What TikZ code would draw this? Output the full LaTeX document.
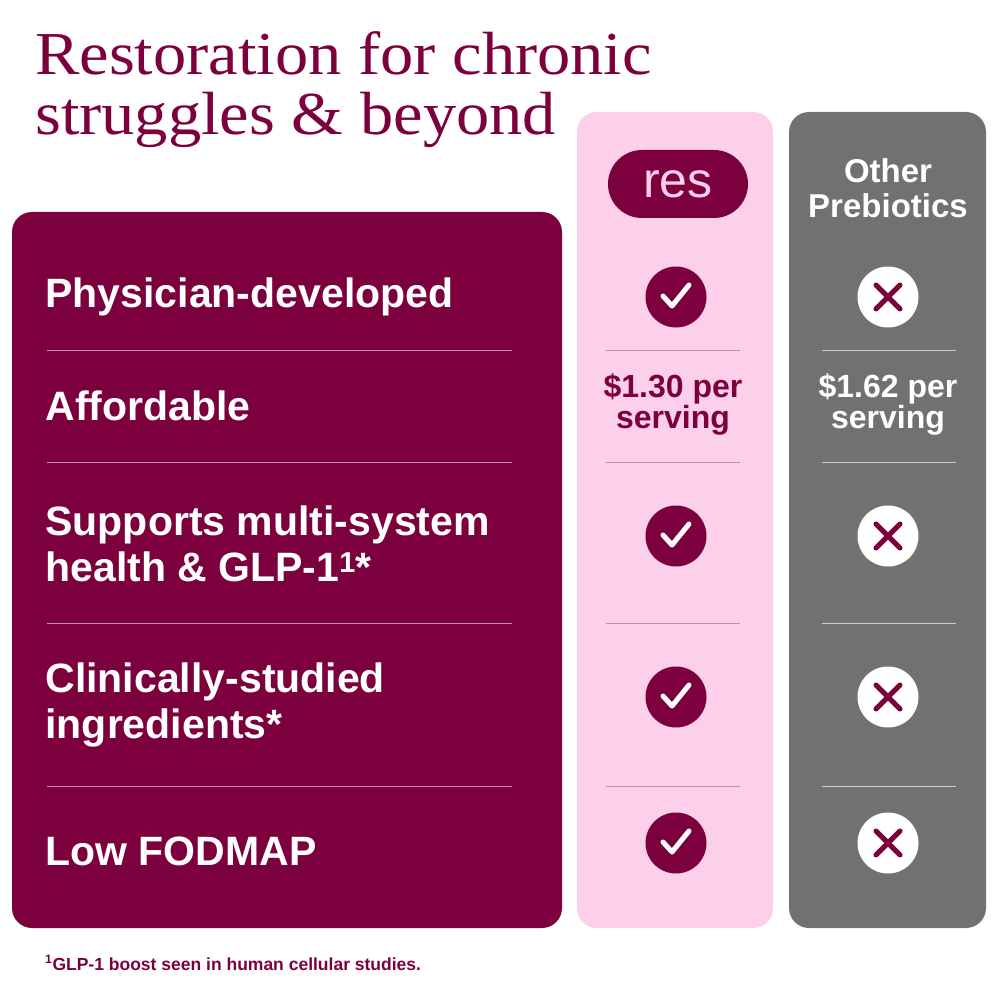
\documentclass[tikz,border=0pt]{standalone}
\usepackage{fontspec}
\setmainfont{Liberation Serif}
\setsansfont{Liberation Sans}
\usetikzlibrary{positioning}
\definecolor{resWine}{HTML}{7D003E}
\definecolor{resPink}{HTML}{FCCFEA}
\definecolor{otherGray}{HTML}{717171}
\definecolor{ruleLine}{HTML}{C98AAA}
\begin{document}
\begin{tikzpicture}[x=1pt,y=-1pt,
  feature/.style={anchor=west,align=left,text=white,font=\sffamily\bfseries\fontsize{41}{46}\selectfont},
  price/.style={align=center,font=\sffamily\bfseries\fontsize{32}{31}\selectfont},
  yes/.style={circle,fill=resWine,minimum size=61pt,inner sep=0pt},
  no/.style={circle,fill=white,minimum size=61pt,inner sep=0pt},
  rowrule/.style={draw=ruleLine,line width=1pt},
  headline/.style={anchor=base west,inner sep=0pt,text=resWine,font=\fontsize{61}{64}\selectfont,xscale=1.09,transform shape}
]
\useasboundingbox (0,0) rectangle (1000,1000);
\fill[white] (0,0) rectangle (1000,1000);
% title
\node[headline] (title1) at (35,75) {Restoration for chronic};
\node[headline] (title2) at (35,135) {struggles \& beyond};
% panels
\fill[resWine,rounded corners=20pt] (12,212) rectangle (562,928);
\fill[resPink,rounded corners=20pt] (577,112) rectangle (773,928);
\fill[otherGray,rounded corners=20pt] (789,112) rectangle (986,928);
% headers
\node[fill=resWine,rounded corners=34pt,minimum width=140pt,minimum height=68pt,text=resPink,font=\sffamily\fontsize{50}{50}\selectfont] (res) at (678,184) {res};
\node[text=white,align=center,font=\sffamily\bfseries\fontsize{33}{35}\selectfont] (other) at (888,188) {Other\\Prebiotics};
% row rules
\foreach \y in {350,462,623,786} {
  \draw[rowrule] (47,\y) -- (512,\y);
  \draw[rowrule] (606,\y) -- (740,\y);
  \draw[rowrule,draw=white!65!otherGray] (822,\y) -- (956,\y);
}
% features
\node[feature] (f1) at (42,297) {Physician-developed};
\node[feature] (f2) at (42,406) {Affordable};
\node[feature] (f3) at (42,544) {Supports multi-system\\health \& GLP-1\textsuperscript{1}*};
\node[feature] (f4) at (42,705) {Clinically-studied\\ingredients*};
\node[feature] (f5) at (42,851) {Low FODMAP};
% prices
\node[price,text=resWine] (p1) at (673,405) {\$1.30 per\\serving};
\node[price,text=white] (p2) at (888,405) {\$1.62 per\\serving};
% marks
\foreach \y/\n in {297/1,536/3,697/4,843/5} {
  \node[yes] (c\n) at (676,\y) {};
  \draw[white,line width=5pt,line cap=round,line join=round]
    ([xshift=-13pt,yshift=1pt]c\n.center) -- ([xshift=-4pt,yshift=-9pt]c\n.center) -- ([xshift=13pt,yshift=12pt]c\n.center);
  \node[no] (x\n) at (888,\y) {};
  \draw[resWine,line width=5pt,line cap=round]
    ([xshift=-12pt,yshift=-12pt]x\n.center) -- ([xshift=12pt,yshift=12pt]x\n.center)
    ([xshift=-12pt,yshift=12pt]x\n.center) -- ([xshift=12pt,yshift=-12pt]x\n.center);
}
% footnote
\node[anchor=base west,inner sep=0pt,text=resWine,font=\sffamily\bfseries\fontsize{17.5}{20}\selectfont] (note) at (45,970) {\textsuperscript{1}GLP-1 boost seen in human cellular studies.};
\end{tikzpicture}
\end{document}
